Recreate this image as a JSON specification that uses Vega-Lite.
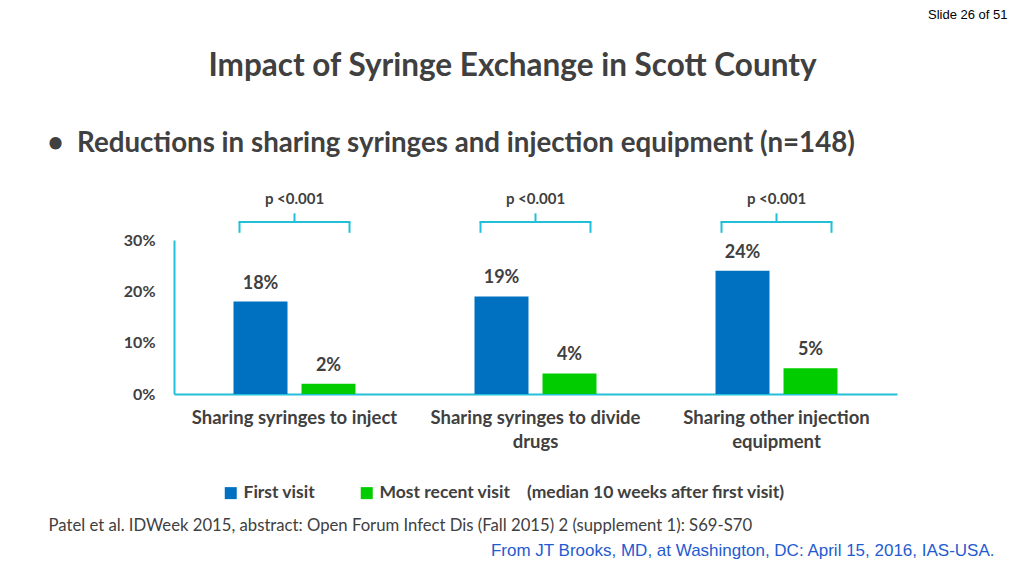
{
  "$schema": "https://vega.github.io/schema/vega-lite/v6.json",
  "width": 723,
  "height": 154,
  "autosize": {"type": "none"},
  "padding": {"left": 174, "top": 240, "right": 127, "bottom": 182},
  "background": "white",
  "title": {
    "text": "Impact of Syringe Exchange in Scott County",
    "font": "Lato",
    "fontSize": 31.5,
    "fontWeight": "bold",
    "color": "#404040",
    "anchor": "middle",
    "frame": "group",
    "baseline": "bottom",
    "dx": -23,
    "offset": -106
  },
  "config": {
    "view": {"stroke": null},
    "font": "Lato"
  },
  "datasets": {
    "bars": [
      {"category": "Sharing syringes to inject", "visit": "First visit", "value": 0.18},
      {"category": "Sharing syringes to inject", "visit": "Most recent visit", "value": 0.02},
      {"category": "Sharing syringes to divide drugs", "visit": "First visit", "value": 0.19},
      {"category": "Sharing syringes to divide drugs", "visit": "Most recent visit", "value": 0.04},
      {"category": "Sharing other injection equipment", "visit": "First visit", "value": 0.24},
      {"category": "Sharing other injection equipment", "visit": "Most recent visit", "value": 0.05}
    ],
    "tests": [
      {"category": "Sharing syringes to inject", "p": "p <0.001"},
      {"category": "Sharing syringes to divide drugs", "p": "p <0.001"},
      {"category": "Sharing other injection equipment", "p": "p <0.001"}
    ]
  },
  "resolve": {"axis": {"x": "independent", "y": "independent"}},
  "layer": [
    {
      "data": {"name": "bars"},
      "mark": {"type": "bar"},
      "encoding": {
        "x": {
          "field": "category",
          "type": "nominal",
          "sort": ["Sharing syringes to inject", "Sharing syringes to divide drugs", "Sharing other injection equipment"],
          "scale": {"paddingInner": 0, "paddingOuter": 0},
          "axis": {
            "orient": "bottom",
            "domainColor": "#22C0D8",
            "domainWidth": 2,
            "ticks": false,
            "labelAngle": 0,
            "labelFont": "Lato",
            "labelFontSize": 18.5,
            "labelFontWeight": "bold",
            "labelColor": "#404040",
            "labelPadding": 14,
            "labelLineHeight": 24,
            "labelBaseline": "top",
            "labelLimit": 0,
            "labelExpr": "datum.label == 'Sharing syringes to divide drugs' ? ['Sharing syringes to divide', 'drugs'] : datum.label == 'Sharing other injection equipment' ? ['Sharing other injection', 'equipment'] : datum.label",
            "title": "Patel et al. IDWeek 2015, abstract: Open Forum Infect Dis (Fall 2015) 2 (supplement 1): S69-S70",
            "titleFont": "Lato",
            "titleFontSize": 16.7,
            "titleFontWeight": "normal",
            "titleColor": "#404040",
            "titleAlign": "left",
            "titleBaseline": "middle",
            "titleX": -126,
            "titleY": 131
          }
        },
        "xOffset": {
          "field": "visit",
          "type": "nominal",
          "scale": {"paddingInner": 0.206, "paddingOuter": 0.875}
        },
        "y": {
          "field": "value",
          "type": "quantitative",
          "scale": {"domain": [0, 0.3], "nice": false},
          "axis": {
            "orient": "left",
            "values": [0, 0.1, 0.2, 0.3],
            "format": ".0%",
            "grid": false,
            "ticks": false,
            "domainColor": "#22C0D8",
            "domainWidth": 2,
            "labelFont": "Lato",
            "labelFontSize": 16,
            "labelFontWeight": "bold",
            "labelColor": "#404040",
            "labelPadding": 19,
            "title": "From JT Brooks, MD, at Washington, DC: April 15, 2016, IAS-USA.",
            "titleFont": "Liberation Sans",
            "titleFontSize": 17,
            "titleFontWeight": "normal",
            "titleColor": "#1F5BD0",
            "titleAngle": 0,
            "titleAlign": "right",
            "titleBaseline": "middle",
            "titleX": 820,
            "titleY": 310
          }
        },
        "color": {
          "field": "visit",
          "type": "nominal",
          "scale": {"domain": ["First visit", "Most recent visit"], "range": ["#0070C0", "#00CC00"]},
          "legend": {
            "orient": "none",
            "legendX": 48,
            "legendY": 244,
            "direction": "horizontal",
            "title": null,
            "symbolType": "square",
            "symbolSize": 144,
            "symbolStrokeWidth": 0,
            "labelFont": "Lato",
            "labelFontSize": 17.5,
            "labelFontWeight": "bold",
            "labelColor": "#404040",
            "labelOffset": 4,
            "labelLimit": 0,
            "columnPadding": 42,
            "labelExpr": "datum.label == 'Most recent visit' ? 'Most recent visit\u00a0\u00a0\u00a0\u00a0(median 10 weeks after first visit)' : datum.label"
          }
        }
      }
    },
    {
      "data": {"name": "bars"},
      "mark": {"type": "text", "dy": -18, "baseline": "middle", "font": "Lato", "fontSize": 18, "fontWeight": "bold", "color": "#404040"},
      "encoding": {
        "x": {
          "field": "category",
          "type": "nominal",
          "sort": ["Sharing syringes to inject", "Sharing syringes to divide drugs", "Sharing other injection equipment"],
          "axis": {
            "orient": "top",
            "labels": false,
            "ticks": false,
            "domain": false,
            "title": "•\u00a0\u00a0Reductions in sharing syringes and injection equipment (n=148)",
            "titleFont": "Lato",
            "titleFontSize": 27.7,
            "titleFontWeight": "bold",
            "titleColor": "#404040",
            "titleAlign": "left",
            "titleBaseline": "middle",
            "titleX": -127,
            "titleY": -97
          }
        },
        "xOffset": {"field": "visit", "type": "nominal"},
        "y": {
          "field": "value",
          "type": "quantitative",
          "axis": {
            "orient": "right",
            "labels": false,
            "ticks": false,
            "domain": false,
            "grid": false,
            "title": "Slide 26 of 51",
            "titleFont": "Liberation Sans",
            "titleFontSize": 13,
            "titleFontWeight": "normal",
            "titleColor": "#000000",
            "titleAngle": 0,
            "titleAlign": "right",
            "titleBaseline": "middle",
            "titleX": 110,
            "titleY": -226
          }
        },
        "text": {"field": "value", "type": "quantitative", "format": ".0%"}
      }
    },
    {
      "data": {"name": "tests"},
      "mark": {"type": "text", "baseline": "middle", "font": "Lato", "fontSize": 15, "fontWeight": "bold", "color": "#404040"},
      "encoding": {
        "x": {"field": "category", "type": "nominal", "sort": ["Sharing syringes to inject", "Sharing syringes to divide drugs", "Sharing other injection equipment"], "axis": null},
        "y": {"datum": 0.38, "type": "quantitative", "axis": null},
        "text": {"field": "p"}
      }
    },
    {
      "data": {"name": "tests"},
      "mark": {"type": "tick", "orient": "horizontal", "size": 112, "thickness": 2, "color": "#22C0D8", "opacity": 1},
      "encoding": {
        "x": {"field": "category", "type": "nominal", "sort": ["Sharing syringes to inject", "Sharing syringes to divide drugs", "Sharing other injection equipment"], "axis": null},
        "y": {"datum": 0.335, "type": "quantitative", "axis": null}
      }
    },
    {
      "data": {"name": "tests"},
      "mark": {"type": "rule", "xOffset": -55, "strokeWidth": 2, "color": "#22C0D8"},
      "encoding": {
        "x": {"field": "category", "type": "nominal", "sort": ["Sharing syringes to inject", "Sharing syringes to divide drugs", "Sharing other injection equipment"], "axis": null},
        "y": {"datum": 0.314, "type": "quantitative", "axis": null},
        "y2": {"datum": 0.335}
      }
    },
    {
      "data": {"name": "tests"},
      "mark": {"type": "rule", "xOffset": 55, "strokeWidth": 2, "color": "#22C0D8"},
      "encoding": {
        "x": {"field": "category", "type": "nominal", "sort": ["Sharing syringes to inject", "Sharing syringes to divide drugs", "Sharing other injection equipment"], "axis": null},
        "y": {"datum": 0.314, "type": "quantitative", "axis": null},
        "y2": {"datum": 0.335}
      }
    },
    {
      "data": {"name": "tests"},
      "mark": {"type": "rule", "strokeWidth": 2, "color": "#22C0D8"},
      "encoding": {
        "x": {"field": "category", "type": "nominal", "sort": ["Sharing syringes to inject", "Sharing syringes to divide drugs", "Sharing other injection equipment"], "axis": null},
        "y": {"datum": 0.335, "type": "quantitative", "axis": null},
        "y2": {"datum": 0.352}
      }
    }
  ]
}
